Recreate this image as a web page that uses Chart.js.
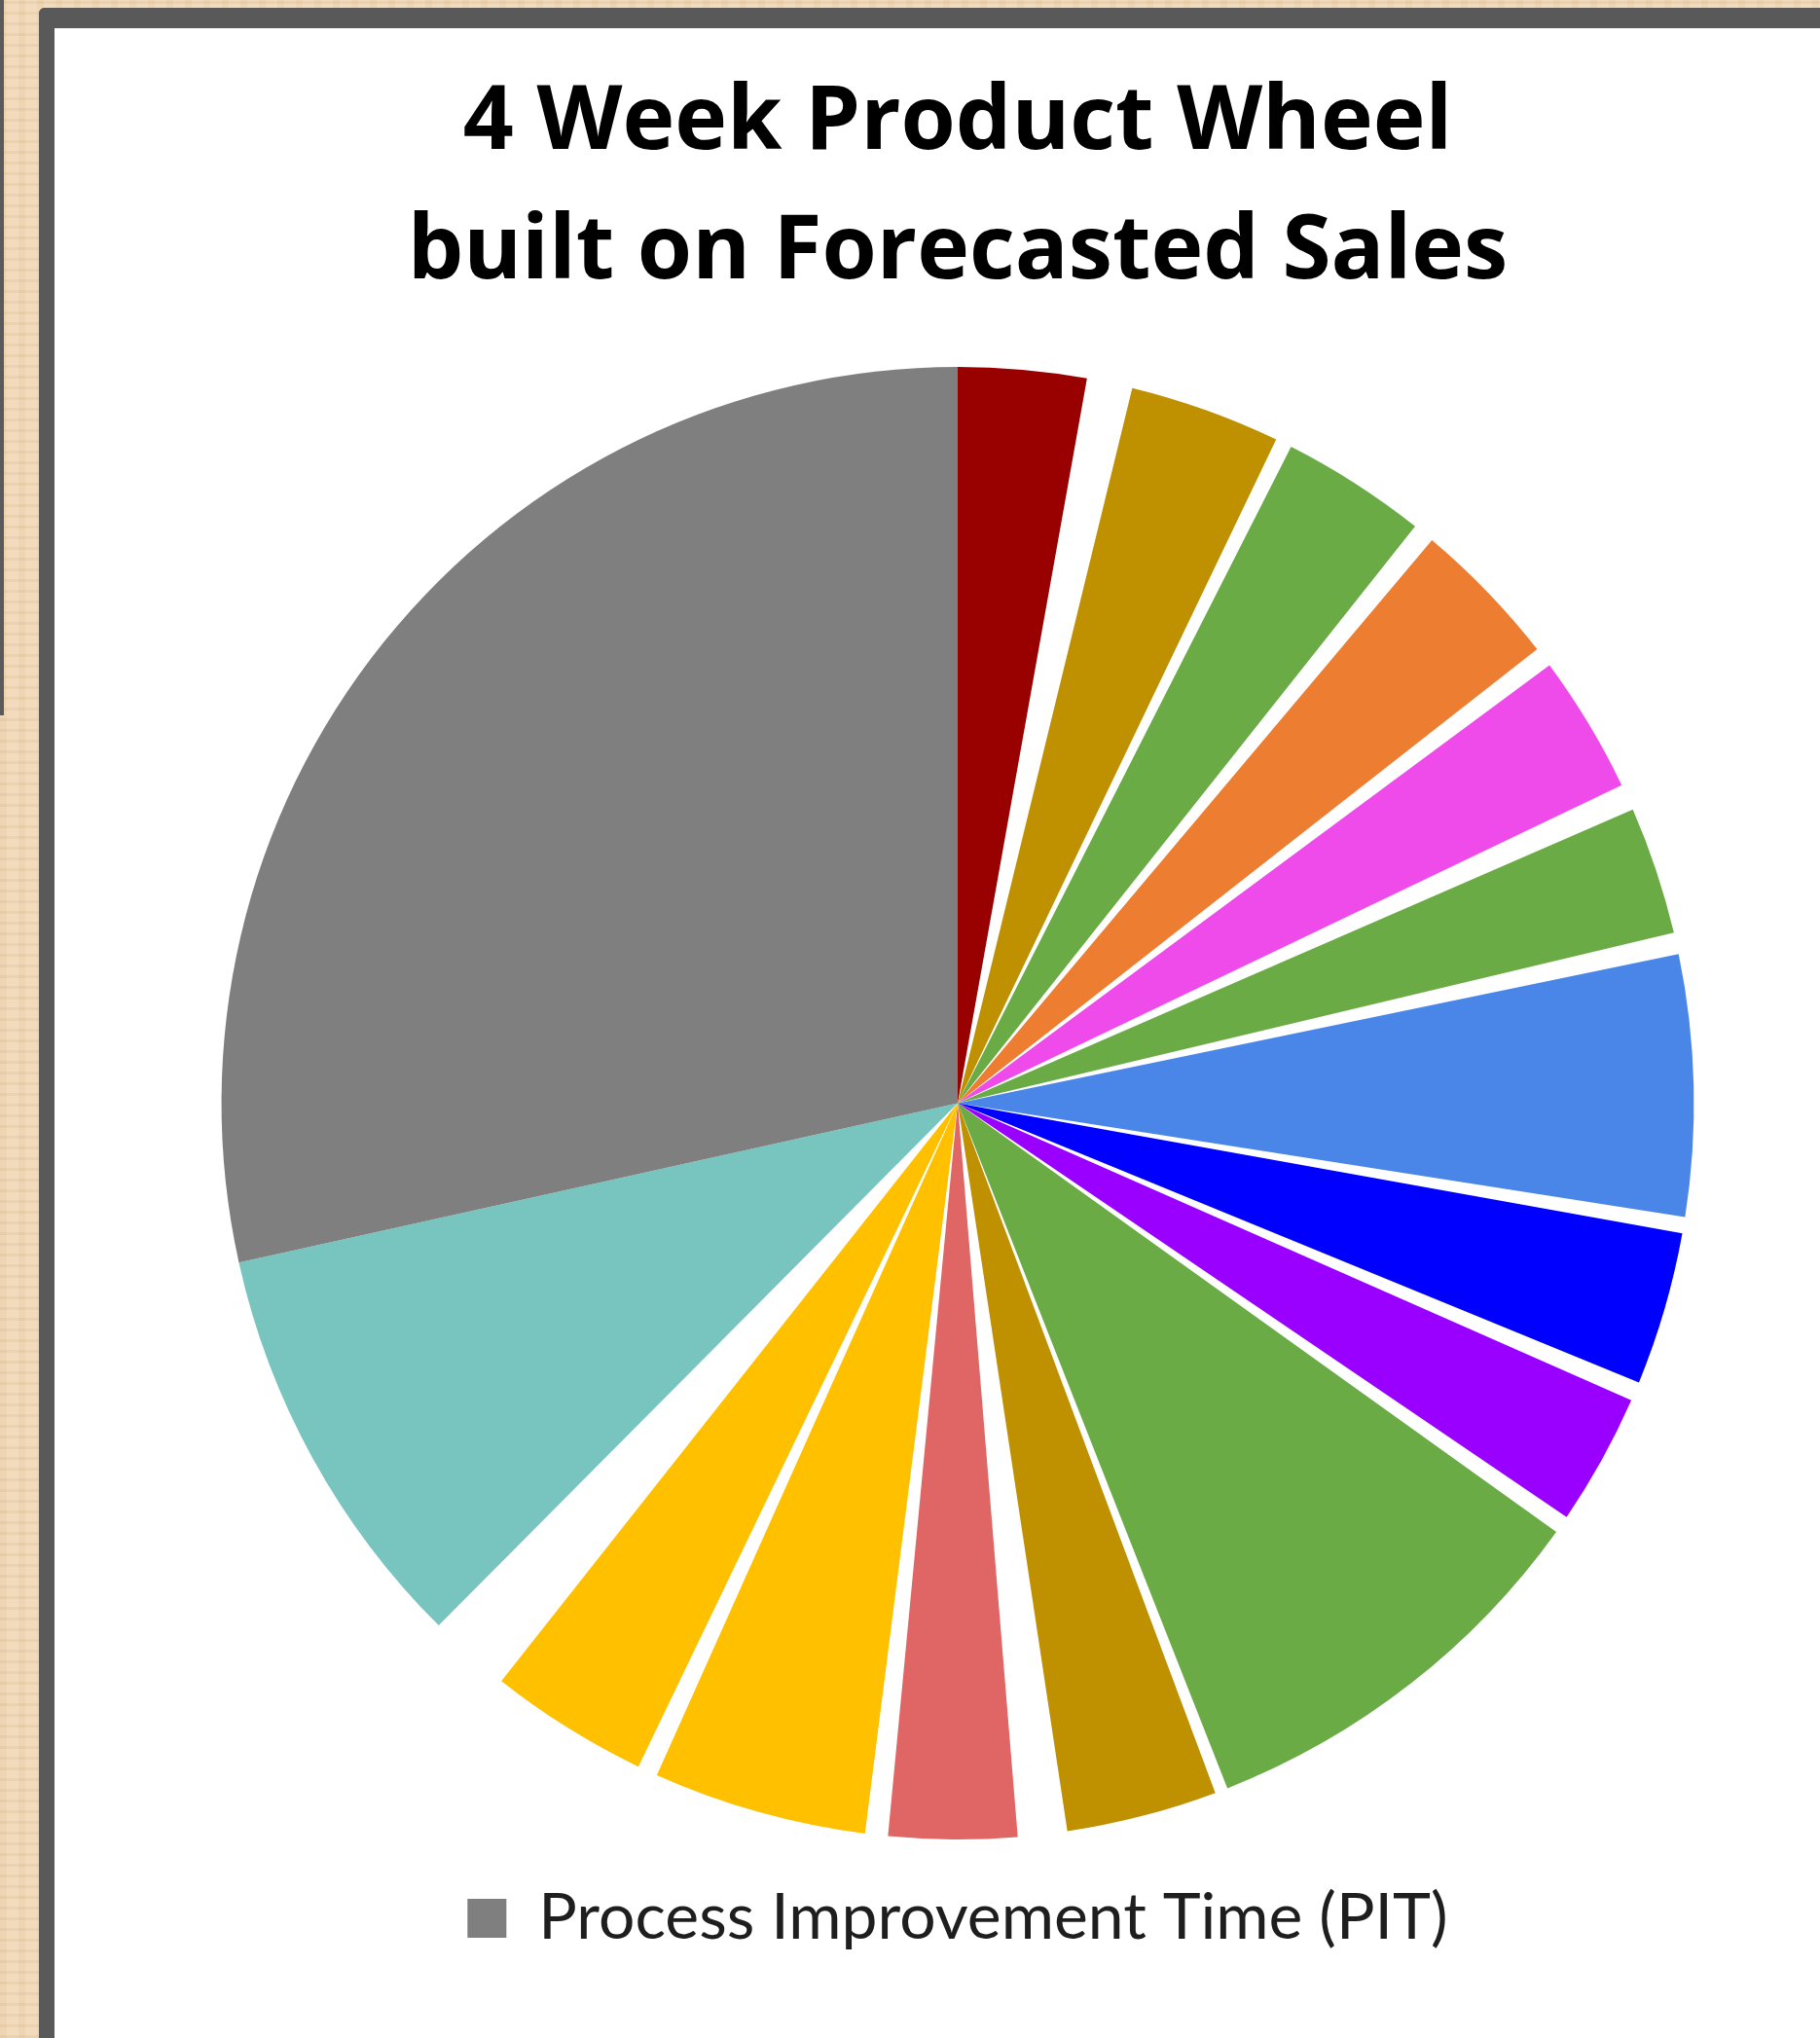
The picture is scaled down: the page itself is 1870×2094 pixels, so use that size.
<!DOCTYPE html>
<html>
<head>
<meta charset="utf-8">
<script src="https://cdn.jsdelivr.net/npm/chart.js@4.4.1/dist/chart.umd.min.js"></script>
<style>
  html, body { margin: 0; padding: 0; width: 1870px; height: 2094px; overflow: hidden; }
  body {
    position: relative;
    background-color: #efd6b4;
    background-image:
      repeating-linear-gradient(0deg, rgba(190,150,100,0.10) 0px, rgba(190,150,100,0.10) 3px, rgba(255,240,220,0.10) 3px, rgba(255,240,220,0.10) 11px),
      repeating-linear-gradient(90deg, rgba(200,160,110,0.08) 0px, rgba(200,160,110,0.08) 7px, rgba(255,245,230,0.10) 7px, rgba(255,245,230,0.10) 19px);
  }
  #edge { position: absolute; left: 0; top: 0; width: 4px; height: 735px; background: #5a5a5a; }
  #frame {
    position: absolute; left: 40px; top: 8px; width: 1900px; height: 2070px;
    border-left: 16px solid #595959; border-top: 21px solid #595959; border-bottom: 9px solid #595959;
    border-top-left-radius: 6px; background: #ffffff;
  }
  #wrap { position: absolute; left: 56px; top: 29px; width: 1856px; height: 2057px; }
</style>
</head>
<body>
<div id="edge"></div>
<div id="frame"></div>
<div id="wrap"><canvas id="c" width="1856" height="2057"></canvas></div>
<script>
// Slices clockwise from 12 o'clock; "Changeover" entries are the blank wedges.
const categories = [
  'Product 1', 'Changeover', 'Product 2', 'Changeover', 'Product 3', 'Changeover',
  'Product 4', 'Changeover', 'Product 5', 'Changeover', 'Product 6', 'Changeover',
  'Product 7', 'Changeover', 'Product 8', 'Changeover', 'Product 9', 'Changeover',
  'Product 10', 'Changeover', 'Product 11', 'Changeover', 'Product 12', 'Changeover',
  'Product 13', 'Changeover', 'Product 14', 'Changeover', 'Product 15',
  'Process Improvement Time (PIT)'
];
// Share of the 4-week wheel, percent
const shares = [
  2.81, 1.00, 3.31, 0.36, 3.19, 0.47,
  3.28, 0.44, 3.03, 0.58, 2.81, 0.47,
  5.72, 0.36, 3.36, 0.42, 2.89, 0.39,
  9.14, 0.28, 3.31, 1.08, 2.81, 0.50,
  4.69, 0.44, 3.50, 1.81, 9.08,
  28.47
];
const legendShown = ['Process Improvement Time (PIT)'];
const titleLines = ['4 Week Product Wheel', 'built on Forecasted Sales'];

const GAP = 'rgba(255,255,255,0)';
const sliceColors = [
  '#990000', GAP, '#bf9000', GAP, '#6aab45', GAP,
  '#ed7d31', GAP, '#ef4aea', GAP, '#6aab45', GAP,
  '#4a86e8', GAP, '#0000ff', GAP, '#9900ff', GAP,
  '#6aab45', GAP, '#bf9000', GAP, '#e06666', GAP,
  '#ffc000', GAP, '#ffc000', GAP, '#78c4bf',
  '#7f7f7f'
];

new Chart(document.getElementById('c'), {
  type: 'pie',
  data: {
    labels: categories,
    datasets: [{
      data: shares,
      backgroundColor: sliceColors,
      borderWidth: 0,
      hoverOffset: 0,
      offset: 0
    }]
  },
  options: {
    responsive: false,
    animation: false,
    rotation: 0,
    layout: { padding: { top: 0, bottom: 72, left: 0, right: 0 } },
    plugins: {
      tooltip: { enabled: false },
      title: {
        display: true,
        text: titleLines,
        color: '#000000',
        font: { family: 'Open Sans', weight: 'bold', size: 91, lineHeight: 1.462 },
        padding: { top: 31.5, bottom: 50.5 }
      },
      legend: {
        display: true,
        position: 'bottom',
        labels: {
          color: '#1e1e1e',
          font: { family: 'Lato', size: 66 },
          boxWidth: 40,
          boxHeight: 40,
          padding: 48,
          filter: (item) => legendShown.includes(categories[item.index])
        }
      }
    }
  }
});
</script>
</body>
</html>
